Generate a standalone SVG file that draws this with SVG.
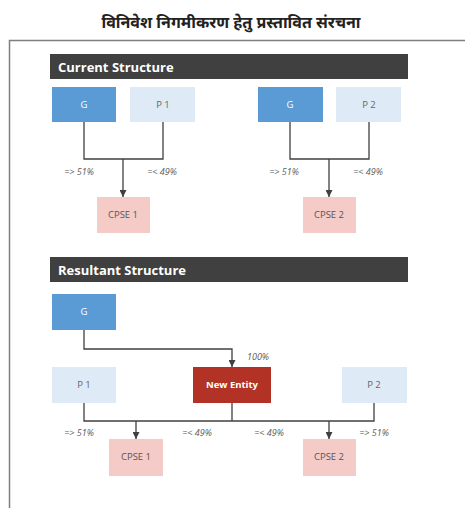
<svg xmlns="http://www.w3.org/2000/svg" width="465" height="508" viewBox="0 0 465 508">
<style>
.t{font-family:"Noto Sans","Noto Sans Devanagari","DejaVu Sans",sans-serif;font-weight:bold;font-size:16px;fill:#222}
.hdr{fill:#404040}
.ht{font-family:"Open Sans","Noto Sans",sans-serif;font-weight:bold;font-size:13px;fill:#fff}
.g{fill:#5b9bd5}
.p{fill:#deebf7}
.c{fill:#f5cbc7}
.n{fill:#b23325}
.lw{font-family:"Open Sans","Noto Sans",sans-serif;font-size:9.5px;fill:#fff;text-anchor:middle}
.lg{font-family:"Open Sans","Noto Sans",sans-serif;font-size:9.5px;fill:#666;text-anchor:middle}
.lc{font-family:"Open Sans","Noto Sans",sans-serif;font-size:9.5px;fill:#555;text-anchor:middle}
.pc{font-family:"Open Sans","Noto Sans",sans-serif;font-size:9px;font-style:italic;fill:#595959;text-anchor:middle}
.ln{fill:none;stroke:#404040;stroke-width:1.3}
</style>
<defs>
<marker id="ah" viewBox="0 0 10 10" refX="10" refY="5" markerWidth="7" markerHeight="7" markerUnits="userSpaceOnUse" orient="auto">
<path d="M0,0 L10,5 L0,10 z" fill="#404040"/>
</marker>
</defs>
<rect width="465" height="508" fill="#fff"/>
<text class="t" x="231" y="28" text-anchor="middle">विनिवेश निगमीकरण हेतु प्रस्तावित संरचना</text>
<path d="M9.5,508 V40.5 H465" fill="none" stroke="#7f7f7f" stroke-width="1.5"/>

<g id="hdr1"><rect class="hdr" x="50" y="54" width="358" height="25"/><text class="ht" x="58" y="71.5">Current Structure</text></g>
<g id="hdr2"><rect class="hdr" x="50" y="257" width="358" height="25"/><text class="ht" x="58" y="274.5">Resultant Structure</text></g>

<g id="connectors">
<path class="ln" d="M84,122 V159 H163 V122"/>
<path class="ln" d="M123,159 V197" marker-end="url(#ah)"/>
<path class="ln" d="M290,122 V159 H369 V122"/>
<path class="ln" d="M329,159 V197" marker-end="url(#ah)"/>
<path class="ln" d="M84,330 V349 H232 V367" marker-end="url(#ah)"/>
<path class="ln" d="M84,403 V421 H374 V403"/>
<path class="ln" d="M232,403 V421"/>
<path class="ln" d="M136,421 V439" marker-end="url(#ah)"/>
<path class="ln" d="M329,421 V439" marker-end="url(#ah)"/>
</g>

<g id="labels">
<text class="pc" x="79" y="175">=&gt; 51%</text>
<text class="pc" x="162" y="175">=&lt; 49%</text>
<text class="pc" x="284" y="175">=&gt; 51%</text>
<text class="pc" x="368" y="175">=&lt; 49%</text>
<text class="pc" x="258" y="360">100%</text>
<text class="pc" x="79" y="436">=&gt; 51%</text>
<text class="pc" x="197" y="436">=&lt; 49%</text>
<text class="pc" x="269" y="436">=&lt; 49%</text>
<text class="pc" x="374" y="436">=&gt; 51%</text>
</g>

<g id="g1"><rect class="g" x="52" y="87" width="64" height="35"/><text class="lw" x="84" y="108">G</text></g>
<g id="p1"><rect class="p" x="130" y="87" width="65" height="35"/><text class="lg" x="163" y="108">P 1</text></g>
<g id="g2"><rect class="g" x="258" y="87" width="65" height="35"/><text class="lw" x="290" y="108">G</text></g>
<g id="p2"><rect class="p" x="336" y="87" width="65" height="35"/><text class="lg" x="369" y="108">P 2</text></g>
<g id="cpse1"><rect class="c" x="97" y="197" width="53" height="36"/><text class="lc" x="123" y="218">CPSE 1</text></g>
<g id="cpse2"><rect class="c" x="303" y="197" width="53" height="36"/><text class="lc" x="329" y="218">CPSE 2</text></g>

<g id="rg"><rect class="g" x="52" y="294" width="64" height="36"/><text class="lw" x="84" y="315">G</text></g>
<g id="rp1"><rect class="p" x="52" y="367" width="64" height="36"/><text class="lg" x="84" y="388">P 1</text></g>
<g id="newentity"><rect class="n" x="193" y="367" width="78" height="36"/><text class="lw" x="232" y="388" font-weight="bold">New Entity</text></g>
<g id="rp2"><rect class="p" x="342" y="367" width="65" height="36"/><text class="lg" x="374" y="388">P 2</text></g>
<g id="rcpse1"><rect class="c" x="109" y="439" width="54" height="37"/><text class="lc" x="136" y="460">CPSE 1</text></g>
<g id="rcpse2"><rect class="c" x="303" y="439" width="53" height="37"/><text class="lc" x="329" y="460">CPSE 2</text></g>
</svg>
